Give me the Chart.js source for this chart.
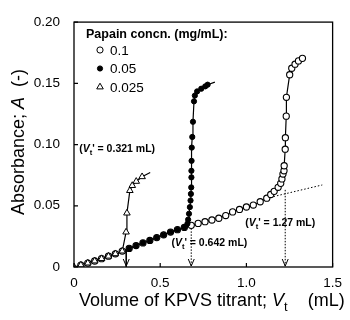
<!DOCTYPE html>
<html><head><meta charset="utf-8">
<script src="https://cdn.jsdelivr.net/npm/chart.js@4"></script>
<style>html,body{margin:0;padding:0;background:#fff}#wrap{width:350px;height:320px;position:relative}</style>
</head><body><div id="wrap"><canvas id="c"></canvas></div>
<script>
// ---- data ----
const xTicks = [0, 0.5, 1.0, 1.5];
const yTicks = [0, 0.05, 0.10, 0.15, 0.20];
const legendTitle = 'Papain concn. (mg/mL):';
const seriesNames = ['0.1', '0.05', '0.025'];

// 0.1 mg/mL (open circles)
const c010_x = [0.04,0.08,0.12,0.16,0.20,0.24,0.28,0.32,0.36,0.40,0.44,0.48,0.52,0.56,0.60,0.64,0.68,0.72,0.76,0.80,0.84,0.88,0.92,0.96,1.00,1.04,1.08,1.118,1.141,1.161,1.184,1.199,1.206,1.212,1.218,1.219,1.225,1.226,1.231,1.232,1.251,1.263,1.282,1.302,1.325];
const c010_y = [0.0016,0.0032,0.0049,0.0068,0.0088,0.0108,0.0130,0.0152,0.0175,0.0197,0.0217,0.0240,0.0263,0.0285,0.0305,0.0323,0.0340,0.0356,0.0370,0.0384,0.0398,0.0420,0.0450,0.0470,0.0490,0.0506,0.0533,0.0562,0.0592,0.0618,0.0651,0.0683,0.0719,0.0759,0.0786,0.0827,0.0962,0.1056,0.1232,0.1386,0.1570,0.1623,0.1656,0.1683,0.1704];

// 0.05 mg/mL (filled circles)
const c005_x = [0.32,0.36,0.40,0.44,0.48,0.52,0.56,0.60,0.64,0.658,0.662,0.667,0.672,0.676,0.678,0.680,0.681,0.681,0.682,0.683,0.686,0.690,0.696,0.701,0.714,0.738,0.761,0.775];
const c005_y = [0.0152,0.0175,0.0197,0.0217,0.0240,0.0263,0.0285,0.0305,0.0323,0.0354,0.0387,0.0435,0.0489,0.0543,0.0597,0.0650,0.0732,0.0786,0.0867,0.0975,0.1062,0.1186,0.1353,0.1400,0.1434,0.1456,0.1475,0.1489];
const c005_tail_x = [0.817];
const c005_tail_y = [0.1510];

// 0.025 mg/mL (open triangles)
const c0025_x = [0,0.04,0.08,0.12,0.16,0.20,0.24,0.28,0.302,0.307,0.324,0.338,0.361,0.395];
const c0025_y = [0,0.0016,0.0032,0.0049,0.0068,0.0088,0.0108,0.0130,0.0285,0.0440,0.0624,0.0665,0.0699,0.0737];
const c0025_tail_x = [0.442];
const c0025_tail_y = [0.0772];

// extrapolated baseline (dotted)
const base_x = [1.118, 1.44];
const base_y = [0.0562, 0.0670];

// end-point arrows
const arrow_x = [0.303, 0.680, 1.225];
const arrow_top = [0.0145, 0.0340, 0.0630];
const arrow_dotted = [false, true, true];
const endpointLabels = ['0.321', '0.642', '1.27'];

// ---- build ----
const FONT = "'Liberation Sans', Arial, Helvetica, sans-serif";
const pts = (xs, ys) => xs.map((x, i) => ({x, y: ys[i]}));

const datasets = [];
datasets.push({label: seriesNames[1], data: pts(c005_x, c005_y), showLine: false,
  pointStyle: 'circle', pointRadius: 2.6, backgroundColor: '#000', borderColor: '#000', borderWidth: 1});
datasets.push({label: seriesNames[2], data: pts(c0025_x, c0025_y), showLine: false,
  pointStyle: 'triangle', pointRadius: 3.8, backgroundColor: '#fff', borderColor: '#000', borderWidth: 1});
datasets.push({label: seriesNames[0], data: pts(c010_x, c010_y), showLine: false,
  pointStyle: 'circle', pointRadius: 3.1, backgroundColor: '#fff', borderColor: '#000', borderWidth: 1.1});
// curves
datasets.push({label: 'curve010', data: pts(c010_x, c010_y), showLine: true, pointRadius: 0, borderColor: '#000', borderWidth: 1.2, tension: 0});
datasets.push({label: 'curve005', data: pts(c005_x.concat(c005_tail_x), c005_y.concat(c005_tail_y)), showLine: true, pointRadius: 0, borderColor: '#000', borderWidth: 1.2, tension: 0});
datasets.push({label: 'curve0025', data: pts(c0025_x.concat(c0025_tail_x), c0025_y.concat(c0025_tail_y)), showLine: true, pointRadius: 0, borderColor: '#000', borderWidth: 1.2, tension: 0});
datasets.push({label: 'base', data: pts(base_x, base_y), showLine: true, pointRadius: 0, borderColor: '#000', borderWidth: 1, borderDash: [1.5, 2]});
arrow_x.forEach((ax, i) => {
  datasets.push({label: 'arrow' + i, data: [{x: ax, y: arrow_top[i]}, {x: ax, y: 0}], showLine: true, pointRadius: 0,
    borderColor: '#000', borderWidth: 1, borderDash: arrow_dotted[i] ? [1.5, 1.5] : []});
});

const notes = [
  {idx: 0, x: 0.25, y: 0.097},
  {idx: 1, x: 0.785, y: 0.0203},
  {idx: 2, x: 1.196, y: 0.0367}
];

function fontStr(size, bold, italic) {
  return (italic ? 'italic ' : '') + (bold ? 'bold ' : '') + size + 'px ' + FONT;
}
function drawRich(ctx, parts, x, y, size, bold, align) {
  let w = 0;
  const items = parts.map(p => {
    const s = p.sub ? size * 0.72 : size;
    ctx.font = fontStr(s, bold, p.i);
    const pw = ctx.measureText(p.t).width;
    w += pw;
    return {p, s, pw};
  });
  let cx = align === 'center' ? x - w / 2 : x;
  ctx.textAlign = 'left';
  ctx.textBaseline = 'alphabetic';
  items.forEach(({p, s, pw}) => {
    ctx.font = fontStr(s, bold, p.i);
    ctx.fillText(p.t, cx, y + (p.sub ? size * 0.28 : 0));
    cx += pw;
  });
}

const deco = {
  id: 'deco',
  afterDraw(chart) {
    const {ctx, chartArea: a, scales: {x, y}} = chart;
    ctx.save();
    ctx.fillStyle = '#000';
    ctx.strokeStyle = '#000';
    // frame
    ctx.lineWidth = 1.3;
    ctx.strokeRect(a.left, a.top, a.right - a.left, a.bottom - a.top);
    // inward ticks
    ctx.lineWidth = 1.2;
    ctx.beginPath();
    yTicks.forEach(v => { const py = y.getPixelForValue(v); ctx.moveTo(a.left, py); ctx.lineTo(a.left + 4, py); });
    xTicks.forEach(v => { const px = x.getPixelForValue(v); ctx.moveTo(px, a.bottom); ctx.lineTo(px, a.bottom - 4); });
    ctx.stroke();
    // arrow heads
    ctx.lineWidth = 1;
    arrow_x.forEach(ax => {
      const px = x.getPixelForValue(ax), py = y.getPixelForValue(0);
      ctx.beginPath();
      ctx.moveTo(px - 3, py - 8); ctx.lineTo(px, py - 1); ctx.lineTo(px + 3, py - 8);
      ctx.stroke();
    });
    // endpoint labels
    notes.forEach(n => {
      const px = x.getPixelForValue(n.x), py = y.getPixelForValue(n.y) + 4;
      drawRich(ctx, [{t: '('}, {t: 'V', i: true}, {t: 't', sub: true}, {t: "' = " + endpointLabels[n.idx] + ' mL)'}], px, py, 10.5, true, 'center');
    });
    // legend
    ctx.font = fontStr(12.5, true);
    ctx.textBaseline = 'middle';
    ctx.textAlign = 'left';
    ctx.fillText(legendTitle, 86, 35);
    const legOrder = [2, 0, 1]; // dataset indices for 0.1, 0.05, 0.025
    legOrder.forEach((di, k) => {
      const ds = chart.data.datasets[di];
      const cy = 50 + k * 18.5;
      ctx.fillStyle = ds.backgroundColor; ctx.strokeStyle = ds.borderColor; ctx.lineWidth = 1;
      Chart.helpers.drawPoint(ctx, {pointStyle: ds.pointStyle, radius: ds.pointRadius, rotation: 0, borderWidth: 1}, 100, cy);
      ctx.fillStyle = '#000';
      ctx.font = fontStr(13.5, false);
      ctx.textBaseline = 'middle';
      ctx.fillText(ds.label, 110, cy + 1);
    });
    // axis titles
    drawRich(ctx, [{t: 'Volume of KPVS titrant; '}, {t: 'V', i: true}, {t: 't', sub: true}, {t: '    (mL)'}], 79, 306, 18, false, 'left');
    ctx.translate(24, 142);
    ctx.rotate(-Math.PI / 2);
    drawRich(ctx, [{t: 'Absorbance; '}, {t: 'A', i: true}, {t: '  (-)'}], 0, 0, 18, false, 'center');
    ctx.restore();
  }
};

new Chart(document.getElementById('c'), {
  type: 'scatter',
  data: {datasets},
  options: {
    responsive: true, maintainAspectRatio: false, animation: false, devicePixelRatio: 1,
    layout: {padding: {left: 0, right: 12, top: 20, bottom: 0}},
    plugins: {legend: {display: false}, tooltip: {enabled: false}},
    scales: {
      x: {
        type: 'linear', min: 0, max: 1.5,
        afterBuildTicks: s => { s.ticks = xTicks.map(v => ({value: v})); },
        afterFit: s => { s.height = 53; },
        grid: {display: false, drawTicks: false}, border: {display: false},
        ticks: {color: '#000', padding: 8, font: {family: FONT, size: 13.5},
          callback: v => v === 0 ? '0' : Number(v).toFixed(1)}
      },
      y: {
        type: 'linear', min: 0, max: 0.2,
        afterBuildTicks: s => { s.ticks = yTicks.map(v => ({value: v})); },
        afterFit: s => { s.width = 74; },
        grid: {display: false, drawTicks: false}, border: {display: false},
        ticks: {color: '#000', padding: 14, font: {family: FONT, size: 13.5},
          callback: v => v === 0 ? '0' : Number(v).toFixed(2)}
      }
    }
  },
  plugins: [deco]
});
</script></body></html>
